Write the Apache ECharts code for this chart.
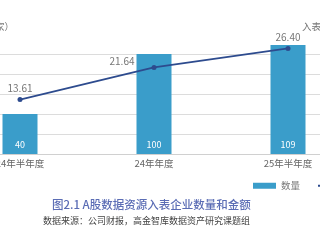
<!DOCTYPE html>
<html><head><meta charset="utf-8">
<script src="https://cdn.jsdelivr.net/npm/echarts@6/dist/echarts.min.js"></script>
<style>html,body{margin:0;padding:0;background:#fff}#c{width:320px;height:240px}</style>
</head><body><div id="c"></div>
<script>
var categories = ['24年半年度', '24年年度', '25年半年度'];
var countValues = [40, 100, 109];
var amountValues = [13.61, 21.64, 26.40];
var countName = '数量';
var amountName = '入表金额';
var leftAxisName = '企业数量（家）';
var rightAxisName = '入表金额（亿元）';
var titleText = '图2.1 A股数据资源入表企业数量和金额';
var sourceText = '数据来源：公司财报，高金智库数据资产研究课题组';
var amountLabelOffset = [[0, 0], [-32, 5], [0, 0]];

var font = '"Noto Sans CJK SC", sans-serif';
var chart = echarts.init(document.getElementById('c'), null, {renderer: 'canvas'});
chart.setOption({
  animation: false,
  textStyle: {fontFamily: font},
  grid: {left: -47, width: 402, top: 54, height: 100, containLabel: false, outerBoundsMode: 'none'},
  legend: [
    {left: 248, top: 176, itemWidth: 23, itemHeight: 6,
     textStyle: {fontSize: 9.5, color: '#777', fontFamily: font},
     data: [{name: countName, icon: 'rect'}]},
    {left: 312, top: 176, itemWidth: 23, itemHeight: 6,
     textStyle: {fontSize: 9.5, color: '#777', fontFamily: font},
     data: [{name: amountName}]}
  ],
  xAxis: {
    type: 'category', data: categories,
    axisLine: {lineStyle: {color: '#d0d0d0'}},
    axisTick: {show: false},
    axisLabel: {fontSize: 9.5, color: '#666', margin: 5, fontFamily: font, hideOverlap: false}
  },
  yAxis: [
    {type: 'value', min: 0, max: 100, interval: 20,
     axisLabel: {show: false}, axisLine: {show: false}, axisTick: {show: false},
     splitLine: {lineStyle: {color: '#dcdcdc', width: 1}}},
    {type: 'value', min: 0, max: 25, interval: 5,
     axisLabel: {show: false}, axisLine: {show: false}, axisTick: {show: false},
     splitLine: {show: false}}
  ],
  series: [
    {name: countName, type: 'bar', data: countValues, barWidth: 35, clip: false,
     itemStyle: {color: '#3a9dca'},
     label: {show: true, position: 'insideBottom', distance: 5, color: '#fff', fontSize: 9, fontFamily: font}},
    {name: amountName, type: 'line', yAxisIndex: 1, clip: false,
     data: amountValues.map(function (v, i) {
       return {value: v, label: {offset: amountLabelOffset[i]}};
     }),
     symbol: 'circle', symbolSize: 5,
     lineStyle: {color: '#2d4b8e', width: 1.8},
     itemStyle: {color: '#2d4b8e'},
     label: {show: true, position: 'top', color: '#777', fontSize: 10, distance: 4, fontFamily: font,
             formatter: function (p) { return p.value.toFixed(2); }}}
  ],
  graphic: [
    {type: 'text', x: 14, y: 22, style: {text: leftAxisName, fill: '#777', font: '9.5px ' + font, textAlign: 'right'}},
    {type: 'text', x: 302, y: 22, style: {text: rightAxisName, fill: '#777', font: '9.5px ' + font}},
    {type: 'text', left: 52, top: 199, style: {text: titleText, fill: '#5b6db5', font: '500 11.5px ' + font}},
    {type: 'text', left: 43, top: 216, style: {text: sourceText, fill: '#444', font: '9px ' + font}}
  ]
});
</script></body></html>
